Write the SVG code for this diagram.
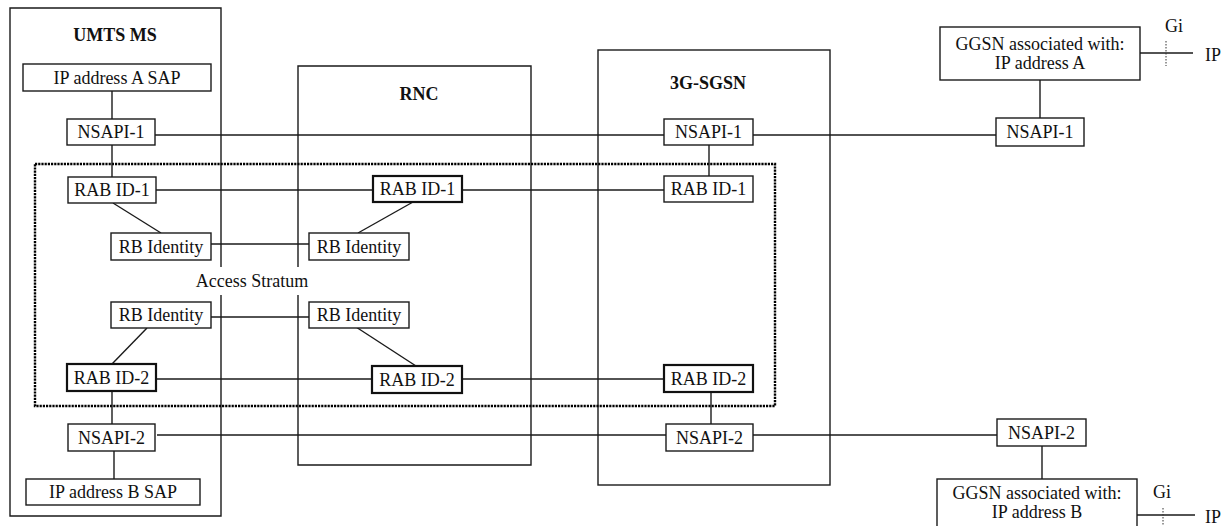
<svg xmlns="http://www.w3.org/2000/svg" width="1226" height="526" viewBox="0 0 1226 526">
<style>
  .box { fill: #fff; stroke: #1a1a1a; stroke-width: 1.4; }
  .bbox { fill: #fff; stroke: #111; stroke-width: 2.2; }
  .frame { fill: none; stroke: #1a1a1a; stroke-width: 1.4; }
  .ln { fill: none; stroke: #1a1a1a; stroke-width: 1.4; }
  .dot { fill: none; stroke: #000; stroke-width: 2.4; stroke-dasharray: 2.2 1; }
  .gi { fill: none; stroke: #333; stroke-width: 1; stroke-dasharray: 1.5 1.5; }
  text { font-family: "Liberation Serif", "Times New Roman", serif; font-size: 18px; fill: #111; }
  .t { text-anchor: middle; }
  .title { text-anchor: middle; font-weight: bold; }
</style>
<rect width="1226" height="526" fill="#fff"/>

<g id="frames">
  <path class="frame" d="M221,267 V8 H10 V516 H221 V295"/>
  <path class="frame" d="M298,267 V66 H531 V465 H298 V295"/>
  <rect class="frame" x="598" y="50" width="232" height="435"/>
  <rect class="dot" x="35" y="164" width="740" height="242"/>
</g>

<g id="labels">
  <text class="title" x="115" y="41">UMTS MS</text>
  <text class="title" x="419" y="100">RNC</text>
  <text class="title" x="708" y="89">3G-SGSN</text>
  <text class="t" x="252" y="287">Access Stratum</text>
  <text class="t" x="1174" y="32">Gi</text>
  <text x="1205" y="61">IP</text>
  <text class="t" x="1162" y="498">Gi</text>
  <text x="1205" y="523">IP</text>
</g>

<g id="connectors">
  <line class="ln" x1="112" y1="91" x2="112" y2="119"/>
  <line class="ln" x1="155" y1="135" x2="664" y2="135"/>
  <line class="ln" x1="753" y1="135" x2="996" y2="135"/>
  <line class="ln" x1="1040" y1="80" x2="1040" y2="118"/>
  <line class="ln" x1="112" y1="145" x2="112" y2="177"/>
  <line class="ln" x1="156" y1="190" x2="373" y2="190"/>
  <line class="ln" x1="462" y1="190" x2="664" y2="190"/>
  <line class="ln" x1="709" y1="145" x2="709" y2="176"/>
  <line class="ln" x1="113" y1="203" x2="161" y2="233"/>
  <line class="ln" x1="211" y1="244" x2="309" y2="244"/>
  <line class="ln" x1="413" y1="202" x2="358" y2="233"/>
  <line class="ln" x1="211" y1="317" x2="309" y2="317"/>
  <line class="ln" x1="147" y1="328" x2="112" y2="364"/>
  <line class="ln" x1="356" y1="327" x2="416" y2="366"/>
  <line class="ln" x1="156" y1="379" x2="372" y2="379"/>
  <line class="ln" x1="462" y1="379" x2="664" y2="379"/>
  <line class="ln" x1="112" y1="391" x2="112" y2="424"/>
  <line class="ln" x1="711" y1="392" x2="711" y2="424"/>
  <line class="ln" x1="157" y1="435" x2="666" y2="435"/>
  <line class="ln" x1="753" y1="435" x2="997" y2="435"/>
  <line class="ln" x1="1042" y1="446" x2="1042" y2="479"/>
  <line class="ln" x1="114" y1="451" x2="114" y2="479"/>
  <line class="ln" x1="1140" y1="53" x2="1193" y2="53"/>
  <line class="gi" x1="1166" y1="41" x2="1166" y2="66"/>
  <line class="ln" x1="1137" y1="515" x2="1195" y2="515"/>
  <line class="gi" x1="1163" y1="508" x2="1163" y2="526"/>
</g>

<g id="ms-ip-a"><rect class="box" x="23" y="64" width="188" height="27"/><text class="t" x="117" y="84">IP address A SAP</text></g>
<g id="ms-nsapi-1"><rect class="box" x="67" y="119" width="88" height="26"/><text class="t" x="111" y="138">NSAPI-1</text></g>
<g id="ms-rab-1"><rect class="box" x="68" y="177" width="88" height="26"/><text class="t" x="112" y="196">RAB ID-1</text></g>
<g id="ms-rb-1"><rect class="box" x="111" y="233" width="100" height="27"/><text class="t" x="161" y="253">RB Identity</text></g>
<g id="ms-rb-2"><rect class="box" x="111" y="302" width="100" height="26"/><text class="t" x="161" y="321">RB Identity</text></g>
<g id="ms-rab-2"><rect class="bbox" x="67" y="364" width="89" height="27"/><text class="t" x="111.5" y="384">RAB ID-2</text></g>
<g id="ms-nsapi-2"><rect class="box" x="68" y="424" width="87" height="27"/><text class="t" x="111.5" y="444">NSAPI-2</text></g>
<g id="ms-ip-b"><rect class="box" x="26" y="479" width="174" height="26"/><text class="t" x="113" y="498">IP address B SAP</text></g>

<g id="rnc-rab-1"><rect class="bbox" x="373" y="176" width="89" height="26"/><text class="t" x="417.5" y="195">RAB ID-1</text></g>
<g id="rnc-rb-1"><rect class="box" x="309" y="233" width="100" height="27"/><text class="t" x="359" y="253">RB Identity</text></g>
<g id="rnc-rb-2"><rect class="box" x="309" y="302" width="100" height="26"/><text class="t" x="359" y="321">RB Identity</text></g>
<g id="rnc-rab-2"><rect class="bbox" x="372" y="366" width="90" height="27"/><text class="t" x="417" y="386">RAB ID-2</text></g>

<g id="sgsn-nsapi-1"><rect class="box" x="664" y="119" width="89" height="26"/><text class="t" x="708.5" y="138">NSAPI-1</text></g>
<g id="sgsn-rab-1"><rect class="box" x="664" y="176" width="89" height="26"/><text class="t" x="708.5" y="195">RAB ID-1</text></g>
<g id="sgsn-rab-2"><rect class="bbox" x="664" y="365" width="89" height="27"/><text class="t" x="708.5" y="385">RAB ID-2</text></g>
<g id="sgsn-nsapi-2"><rect class="box" x="666" y="424" width="87" height="27"/><text class="t" x="709.5" y="444">NSAPI-2</text></g>

<g id="ggsn-a"><rect class="box" x="940" y="27" width="200" height="53"/><text class="t" x="1040" y="50">GGSN associated with:</text><text class="t" x="1040" y="69">IP address A</text></g>
<g id="ggsn-nsapi-1"><rect class="box" x="996" y="118" width="88" height="28"/><text class="t" x="1040" y="138">NSAPI-1</text></g>
<g id="ggsn-nsapi-2"><rect class="box" x="997" y="419" width="89" height="27"/><text class="t" x="1041.5" y="439">NSAPI-2</text></g>
<g id="ggsn-b"><rect class="box" x="937" y="479" width="200" height="60"/><text class="t" x="1037" y="499">GGSN associated with:</text><text class="t" x="1037" y="518">IP address B</text></g>
</svg>
